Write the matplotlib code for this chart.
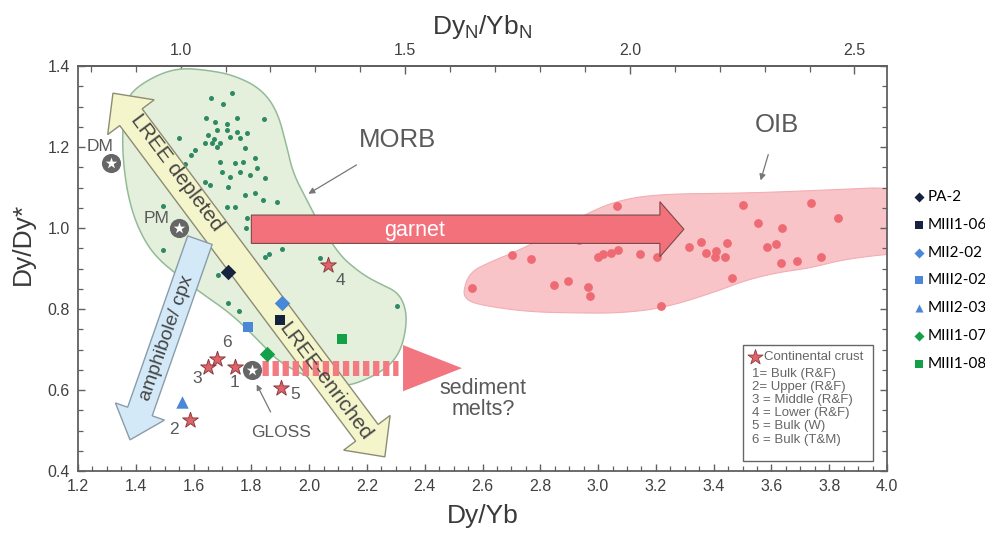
import numpy as np
import matplotlib
matplotlib.use("Agg")
import matplotlib.pyplot as plt
from matplotlib.patches import Polygon, Rectangle, FancyArrow
from matplotlib.ticker import MultipleLocator, FormatStrFormatter

plt.rcParams['font.family'] = ['Liberation Sans', 'DejaVu Sans']

# ---- data ----
morb_x = [1.660, 1.733, 1.702, 1.643, 1.674, 1.716, 1.750, 1.844,
          1.549, 1.650, 1.681, 1.716, 1.726, 1.750, 1.761, 1.785,
          1.639, 1.664, 1.691, 1.671, 1.681, 1.605, 1.591, 1.778, 1.812,
          1.570, 1.691, 1.743, 1.771, 1.698, 1.726, 1.761, 1.795, 1.819, 1.847,
          1.639, 1.657, 1.719, 1.778, 1.812, 1.840, 1.889,
          1.494, 1.716, 1.743, 1.785, 1.781,
          1.494, 1.608, 1.650, 1.847, 1.861, 1.906, 2.037, 2.304,
          1.684, 1.719, 1.757]
morb_y = [1.321, 1.333, 1.306, 1.272, 1.262, 1.257, 1.272, 1.269,
          1.222, 1.230, 1.242, 1.242, 1.225, 1.237, 1.222, 1.235,
          1.210, 1.210, 1.210, 1.220, 1.200, 1.193, 1.180, 1.198, 1.173,
          1.158, 1.163, 1.160, 1.163, 1.138, 1.126, 1.138, 1.131, 1.148, 1.123,
          1.114, 1.106, 1.101, 1.081, 1.086, 1.069, 1.064,
          1.054, 1.052, 1.052, 1.025, 1.000,
          0.946, 0.933, 0.965, 0.928, 0.936, 0.948, 0.926, 0.807,
          0.884, 0.815, 0.795]

oib_x = [2.563, 2.702, 2.767, 2.847, 2.896, 2.965, 2.972, 2.934, 3.065, 3.000, 3.017,
         3.044, 3.069, 3.145, 3.203, 3.217, 3.501, 3.736, 3.830, 3.553, 3.636, 3.314,
         3.356, 3.373, 3.408, 3.404, 3.439, 3.446, 3.584, 3.615, 3.633, 3.688, 3.771, 3.463]
oib_y = [0.852, 0.933, 0.923, 0.859, 0.869, 0.854, 0.832, 0.970, 1.054, 0.928, 0.936,
         0.938, 0.946, 0.936, 0.928, 0.807, 1.057, 1.062, 1.025, 1.012, 1.000, 0.953,
         0.965, 0.938, 0.943, 0.928, 0.928, 0.963, 0.953, 0.960, 0.914, 0.919, 0.928, 0.877]

morb_field = [(1.363, 1.304), (1.390, 1.341), (1.473, 1.378), (1.553, 1.395), (1.646, 1.390),
              (1.736, 1.378), (1.830, 1.346), (1.889, 1.291), (1.923, 1.200), (1.944, 1.136),
              (1.992, 1.069), (2.037, 1.007), (2.107, 0.933), (2.152, 0.904), (2.200, 0.879),
              (2.255, 0.859), (2.304, 0.842), (2.331, 0.810), (2.338, 0.765), (2.321, 0.706),
              (2.290, 0.669), (2.245, 0.644), (2.193, 0.625), (2.141, 0.612), (2.082, 0.610),
              (2.003, 0.630), (1.934, 0.654), (1.882, 0.679), (1.840, 0.711), (1.736, 0.785),
              (1.622, 0.842), (1.553, 0.879), (1.473, 0.926), (1.425, 0.975), (1.387, 1.040),
              (1.363, 1.119), (1.352, 1.217)]
oib_field = [(2.532, 0.842), (2.556, 0.891), (2.626, 0.916), (2.729, 0.946), (2.851, 0.990),
             (2.972, 1.040), (3.075, 1.069), (3.214, 1.084), (3.491, 1.086), (3.698, 1.091),
             (4.15, 1.105), (4.15, 0.945), (3.871, 0.926), (3.733, 0.901), (3.629, 0.891),
             (3.515, 0.872), (3.397, 0.840), (3.224, 0.802), (3.075, 0.790), (2.937, 0.790),
             (2.754, 0.793), (2.591, 0.810), (2.546, 0.822)]

sample_names = ['PA-2', 'MIII1-06', 'MII2-02', 'MIII2-02', 'MIII2-03', 'MIII1-07', 'MIII1-08']
sample_x = [1.72, 1.90, 1.906, 1.79, 1.56, 1.855, 2.115]
sample_y = [0.891, 0.773, 0.815, 0.756, 0.570, 0.689, 0.726]
sample_markers = ['D', 's', 'D', 's', '^', 'D', 's']
sample_colors = ['#15233f', '#15233f', '#4a87d6', '#4a87d6', '#4a87d6', '#14a048', '#14a048']

crust_ids = ['1', '2', '3', '4', '5', '6']
crust_x = [1.743, 1.588, 1.650, 2.065, 1.902, 1.681]
crust_y = [0.657, 0.526, 0.657, 0.909, 0.605, 0.677]
crust_offsets = [(0, -11), (-12, -7), (-8, -8), (9, -11), (10, -5), (7, 12)]
crust_notes = ['1= Bulk (R&F)', '2= Upper (R&F)', '3 = Middle (R&F)',
               '4 = Lower (R&F)', '5 = Bulk (W)', '6 = Bulk (T&M)']

ref_names = ['DM', 'PM', 'GLOSS']
ref_x = [1.314, 1.55, 1.802]
ref_y = [1.16, 1.0, 0.65]

RATIO = 1.555  # Dy/Yb = RATIO * DyN/YbN
GRAY = '#5a5a5a'


def chaikin(pts, n=3):
    p = np.asarray(pts, dtype=float)
    for _ in range(n):
        q = np.roll(p, -1, axis=0)
        out = np.empty((2 * len(p), 2))
        out[0::2] = 0.75 * p + 0.25 * q
        out[1::2] = 0.25 * p + 0.75 * q
        p = out
    return p


def band_arrow(ax, tail, tip, half_w, head_len, head_w, both=False, **kw):
    # geometry in pixels, so the arrow is not skewed by the axis aspect
    tr = ax.transData
    a, b = tr.transform([tail, tip])
    u = (b - a) / np.hypot(*(b - a))
    n = np.array([-u[1], u[0]])
    hb = b - u * head_len
    if both:
        ha = a + u * head_len
        pts = [ha + n * half_w, hb + n * half_w, hb + n * head_w, b, hb - n * head_w,
               hb - n * half_w, ha - n * half_w, ha - n * head_w, a, ha + n * head_w]
    else:
        pts = [a + n * half_w, hb + n * half_w, hb + n * head_w, b, hb - n * head_w,
               hb - n * half_w, a - n * half_w]
    ax.add_patch(Polygon(tr.inverted().transform(pts), closed=True, **kw))
    ang = np.degrees(np.arctan2(u[1], u[0]))
    return ang


fig = plt.figure(figsize=(9.85, 5.33), dpi=100)
ax = fig.add_axes([0.0792, 0.1163, 0.8213, 0.7598])
ax.set_xlim(1.2, 4.0)
ax.set_ylim(0.4, 1.4)

# fields
ax.add_patch(Polygon(chaikin(morb_field), closed=True, fc='#e4efdc', ec='#93bb98', lw=1.1, zorder=1))
ax.add_patch(Polygon(chaikin(oib_field), closed=True, fc='#f8c4c7', ec='#f2aeb3', lw=0.8, zorder=1))
ax.scatter(morb_x, morb_y, s=13, c='#2f8a63', lw=0, zorder=2)
ax.scatter(oib_x, oib_y, s=40, c='#ee6b74', lw=0, zorder=2)

# garnet arrow
ax.add_patch(FancyArrow(1.80, 0.997, 1.497, 0, width=0.07, head_width=0.136, head_length=0.083,
                        length_includes_head=True, fc='#f2717a', ec='#7a4a4a', lw=0.8, zorder=4))
ax.text(2.366, 0.995, 'garnet', color='white', fontsize=15.5, ha='center', va='center', zorder=5)

# LREE double arrow
ang = band_arrow(ax, (1.321, 1.333), (2.262, 0.435), 14, 30, 29, both=True,
                 fc='#f5f5cc', ec='#8c8c74', lw=1.0, zorder=3)
ax.text(1.543, 1.138, 'LREE depleted', rotation=ang, rotation_mode='anchor', fontsize=15,
        color='#444444', ha='center', va='center', zorder=5)
ax.text(2.055, 0.620, 'LREE-enriched', rotation=ang, rotation_mode='anchor', fontsize=15,
        color='#444444', ha='center', va='center', zorder=5)

# amphibole / cpx arrow
ang2 = band_arrow(ax, (1.622, 0.970), (1.380, 0.477), 13, 30, 26,
                  fc='#d3e9f7', ec='#8a9caa', lw=1.0, zorder=3)
ax.text(1.508, 0.728, 'amphibole/ cpx', rotation=ang2 + 180, rotation_mode='anchor', fontsize=14,
        color='#444444', ha='center', va='center', zorder=5)

# sediment melts arrow
ax.plot([1.837, 2.307], [0.654, 0.654], color='#f47a82', lw=10.8, solid_capstyle='butt',
        linestyle=(0, (0.42, 0.25)), zorder=4)
ax.add_patch(Polygon([(2.325, 0.597), (2.529, 0.654), (2.325, 0.711)], closed=True,
                     fc='#f27680', ec='none', zorder=4))
ax.text(2.601, 0.578, 'sediment\nmelts?', fontsize=15.5, color=GRAY, ha='center', va='center',
        linespacing=1.0)

# field labels
ax.annotate('MORB', xy=(1.989, 1.081), xytext=(2.307, 1.217), fontsize=18.5, color=GRAY,
            ha='center', va='center',
            arrowprops=dict(arrowstyle='-|>', color='#777777', lw=0.9, shrinkA=14, mutation_scale=9))
ax.annotate('OIB', xy=(3.560, 1.111), xytext=(3.619, 1.254), fontsize=18.5, color=GRAY,
            ha='center', va='center',
            arrowprops=dict(arrowstyle='-|>', color='#777777', lw=0.9, shrinkA=11, mutation_scale=9))

# samples
for nm, x, y, m, c in zip(sample_names, sample_x, sample_y, sample_markers, sample_colors):
    ax.scatter([x], [y], marker=m, s=62 if m != '^' else 80, c=c, lw=0, zorder=7, label=nm)

# continental crust stars
ax.scatter(crust_x, crust_y, marker='*', s=140, c='#e0626b', edgecolors='#8a3c3c', lw=0.7, zorder=7)
for cid, x, y, off in zip(crust_ids, crust_x, crust_y, crust_offsets):
    ax.annotate(cid, (x, y), xytext=off, textcoords='offset points', fontsize=12.5,
                color=GRAY, ha='center', va='center', zorder=7)

# reservoirs
ax.scatter(ref_x, ref_y, marker='o', s=190, c='#666666', lw=0, zorder=7)
ax.scatter(ref_x, ref_y, marker='*', s=75, c='white', lw=0, zorder=8)
ax.annotate('DM', (ref_x[0], ref_y[0]), xytext=(-8, 12), textcoords='offset points',
            fontsize=12.5, color=GRAY, ha='center', va='center')
ax.annotate('PM', (ref_x[1], ref_y[1]), xytext=(-16, 7), textcoords='offset points',
            fontsize=12.5, color=GRAY, ha='center', va='center')
ax.annotate('GLOSS', xy=(ref_x[2] + 0.012, ref_y[2] - 0.03), xytext=(1.902, 0.496),
            fontsize=12.5, color=GRAY, ha='center', va='center',
            arrowprops=dict(arrowstyle='-|>', color='#777777', lw=0.9, shrinkA=8, mutation_scale=8))

# continental crust key box
ax.add_patch(Rectangle((0.822, 0.025), 0.161, 0.286, transform=ax.transAxes, fill=False,
                       ec='#666666', lw=1.0, zorder=6))
ax.scatter([0.837], [0.281], marker='*', s=130, c='#e0626b', edgecolors='#8a3c3c', lw=0.6,
           transform=ax.transAxes, zorder=7)
ax.text(0.848, 0.281, 'Continental crust', transform=ax.transAxes, fontsize=9.5,
        color='#666666', va='center', ha='left')
ax.text(0.833, 0.254, '\n'.join(crust_notes), transform=ax.transAxes, fontsize=9.5,
        color='#666666', va='top', ha='left', linespacing=1.12)

# axes styling
for sp in ax.spines.values():
    sp.set_color('#606060')
    sp.set_linewidth(1.3)
ax.xaxis.set_major_locator(MultipleLocator(0.2))
ax.xaxis.set_minor_locator(MultipleLocator(0.05))
ax.yaxis.set_major_locator(MultipleLocator(0.2))
ax.yaxis.set_minor_locator(MultipleLocator(0.05))
ax.xaxis.set_major_formatter(FormatStrFormatter('%.1f'))
ax.yaxis.set_major_formatter(FormatStrFormatter('%.1f'))
ax.tick_params(which='both', direction='in', color='#606060', labelcolor='#404040',
               labelsize=11.5, right=True, top=False)
ax.tick_params(which='major', length=5, width=1.0, pad=6)
ax.tick_params(which='minor', length=3.5, width=0.9)
ax.set_xlabel('Dy/Yb', fontsize=19, color='#3a3a3a', va='center')
ax.xaxis.set_label_coords(0.5, -0.11)
ax.set_ylabel('Dy/Dy*', fontsize=19, color='#3a3a3a', va='center')
ax.yaxis.set_label_coords(-0.068, 0.56)

secax = ax.secondary_xaxis('top', functions=(lambda x: x / RATIO, lambda x: x * RATIO))
secax.set_xticks([1.0, 1.5, 2.0, 2.5])
secax.xaxis.set_minor_locator(MultipleLocator(0.1))
secax.xaxis.set_major_formatter(FormatStrFormatter('%.1f'))
secax.tick_params(which='both', direction='in', color='#606060', labelcolor='#404040',
                  labelsize=11.5)
secax.tick_params(which='major', length=6, width=1.0, pad=6)
secax.tick_params(which='minor', length=4, width=0.9)
secax.spines['top'].set_color('#606060')
secax.spines['top'].set_linewidth(1.3)
secax.set_xlabel(r'$\mathregular{Dy_N/Yb_N}$', fontsize=19, color='#3a3a3a', labelpad=6)

# sample legend outside on the right
fig.legend(loc='upper left', bbox_to_anchor=(0.922, 0.652), frameon=False,
           prop={'family': ['Lato', 'DejaVu Sans'], 'size': 11},
           handlelength=0.8, handletextpad=0.15, labelspacing=0.9, markerscale=0.65,
           borderaxespad=0, borderpad=0.3)

fig.savefig('out.png', dpi=100)
